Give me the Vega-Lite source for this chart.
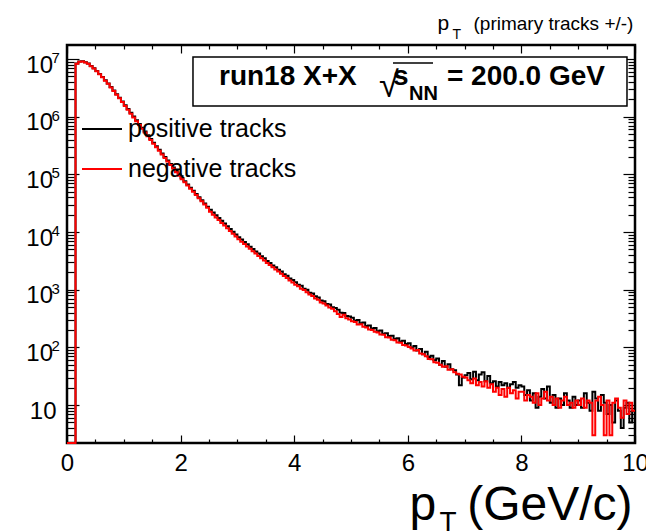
{
 "$schema": "https://vega.github.io/schema/vega-lite/v6.json",
 "width": 568, "height": 398,
 "autosize": {"type": "none"},
 "padding": {"left": 67, "top": 45, "right": 11, "bottom": 89},
 "background": "white",
 "config": {
  "font": "Liberation Sans",
  "view": {"stroke": "black", "strokeWidth": 2.5},
  "axis": {"domain": false, "grid": false, "tickColor": "black", "tickWidth": 1.2, "labelColor": "black", "titleColor": "black", "labelFont": "Liberation Sans", "titleFont": "Liberation Sans", "titleFontWeight": "normal", "labelFlush": false, "labelOverlap": false}
 },
 "data": {"values": [
{"x":0,"pos":2.2,"neg":2.2},{"x":0.05,"pos":2.2,"neg":2.2},{"x":0.1,"pos":2.2,"neg":2.2},{"x":0.15,"pos":8320000,"neg":8250000},{"x":0.2,"pos":9020000,"neg":8950000},{"x":0.25,"pos":9120000,"neg":9050000},{"x":0.3,"pos":8810000,"neg":8740000},{"x":0.35,"pos":8320000,"neg":8250000},{"x":0.4,"pos":7590000,"neg":7520000},{"x":0.45,"pos":6920000,"neg":6860000},
{"x":0.5,"pos":6170000,"neg":6110000},{"x":0.55,"pos":5500000,"neg":5440000},{"x":0.6,"pos":4900000,"neg":4850000},{"x":0.65,"pos":4270000,"neg":4220000},{"x":0.7,"pos":3760000,"neg":3710000},{"x":0.75,"pos":3270000,"neg":3220000},{"x":0.8,"pos":2850000,"neg":2800000},{"x":0.85,"pos":2450000,"neg":2400000},{"x":0.9,"pos":2140000,"neg":2090000},{"x":0.95,"pos":1840000,"neg":1790000},
{"x":1,"pos":1585000,"neg":1530000},{"x":1.05,"pos":1365000,"neg":1315000},{"x":1.1,"pos":1175000,"neg":1130000},{"x":1.15,"pos":1012000,"neg":972000},{"x":1.2,"pos":871000,"neg":836000},{"x":1.25,"pos":750000,"neg":720000},{"x":1.3,"pos":646000,"neg":620000},{"x":1.35,"pos":556000,"neg":534000},{"x":1.4,"pos":479000,"neg":460000},{"x":1.45,"pos":412000,"neg":396000},
{"x":1.5,"pos":355000,"neg":341000},{"x":1.55,"pos":308000,"neg":296000},{"x":1.6,"pos":267000,"neg":256000},{"x":1.65,"pos":231000,"neg":222000},{"x":1.7,"pos":200000,"neg":192000},{"x":1.75,"pos":174000,"neg":167000},{"x":1.8,"pos":151000,"neg":145000},{"x":1.85,"pos":131000,"neg":126000},{"x":1.9,"pos":114000,"neg":109000},{"x":1.95,"pos":99100,"neg":95100},
{"x":2,"pos":86100,"neg":82700},{"x":2.05,"pos":75900,"neg":72900},{"x":2.1,"pos":66800,"neg":64100},{"x":2.15,"pos":58900,"neg":56500},{"x":2.2,"pos":51900,"neg":49800},{"x":2.25,"pos":45700,"neg":43900},{"x":2.3,"pos":40300,"neg":38700},{"x":2.35,"pos":35500,"neg":34100},{"x":2.4,"pos":31300,"neg":30000},{"x":2.45,"pos":27500,"neg":26400},
{"x":2.5,"pos":24300,"neg":22400},{"x":2.55,"pos":21800,"neg":20000},{"x":2.6,"pos":19500,"neg":17900},{"x":2.65,"pos":17500,"neg":16100},{"x":2.7,"pos":15700,"neg":14400},{"x":2.75,"pos":14100,"neg":13000},{"x":2.8,"pos":12600,"neg":11600},{"x":2.85,"pos":11300,"neg":10400},{"x":2.9,"pos":10100,"neg":9300},{"x":2.95,"pos":9080,"neg":8350},
{"x":3,"pos":8130,"neg":7480},{"x":3.05,"pos":7450,"neg":6810},{"x":3.1,"pos":6700,"neg":6190},{"x":3.15,"pos":6150,"neg":5630},{"x":3.2,"pos":5540,"neg":5120},{"x":3.25,"pos":5100,"neg":4660},{"x":3.3,"pos":4580,"neg":4240},{"x":3.35,"pos":4230,"neg":3860},{"x":3.4,"pos":3800,"neg":3510},{"x":3.45,"pos":3500,"neg":3200},
{"x":3.5,"pos":3140,"neg":2910},{"x":3.55,"pos":2920,"neg":2670},{"x":3.6,"pos":2640,"neg":2450},{"x":3.65,"pos":2460,"neg":2240},{"x":3.7,"pos":2220,"neg":2060},{"x":3.75,"pos":2080,"neg":1900},{"x":3.8,"pos":1860,"neg":1730},{"x":3.85,"pos":1750,"neg":1590},{"x":3.9,"pos":1570,"neg":1450},{"x":3.95,"pos":1470,"neg":1340},
{"x":4,"pos":1350,"neg":1220},{"x":4.05,"pos":1220,"neg":1150},{"x":4.1,"pos":1170,"neg":1040},{"x":4.15,"pos":1040,"neg":985},{"x":4.2,"pos":995,"neg":900},{"x":4.25,"pos":890,"neg":830},{"x":4.3,"pos":860,"neg":780},{"x":4.35,"pos":770,"neg":705},{"x":4.4,"pos":735,"neg":670},{"x":4.45,"pos":650,"neg":600},
{"x":4.5,"pos":630,"neg":575},{"x":4.55,"pos":565,"neg":530},{"x":4.6,"pos":555,"neg":490},{"x":4.65,"pos":495,"neg":470},{"x":4.7,"pos":480,"neg":425},{"x":4.75,"pos":450,"neg":380},{"x":4.8,"pos":400,"neg":335},{"x":4.85,"pos":395,"neg":370},{"x":4.9,"pos":352,"neg":320},{"x":4.95,"pos":345,"neg":305},
{"x":5,"pos":325,"neg":285},{"x":5.05,"pos":290,"neg":275},{"x":5.1,"pos":300,"neg":250},{"x":5.15,"pos":262,"neg":252},{"x":5.2,"pos":270,"neg":228},{"x":5.25,"pos":236,"neg":222},{"x":5.3,"pos":240,"neg":205},{"x":5.35,"pos":212,"neg":200},{"x":5.4,"pos":218,"neg":186},{"x":5.45,"pos":190,"neg":182},
{"x":5.5,"pos":196,"neg":168},{"x":5.55,"pos":172,"neg":165},{"x":5.6,"pos":176,"neg":150},{"x":5.65,"pos":158,"neg":148},{"x":5.7,"pos":160,"neg":136},{"x":5.75,"pos":140,"neg":133},{"x":5.8,"pos":144,"neg":122},{"x":5.85,"pos":126,"neg":120},{"x":5.9,"pos":130,"neg":110},{"x":5.95,"pos":115,"neg":108},
{"x":6,"pos":118,"neg":102},{"x":6.05,"pos":100,"neg":96},{"x":6.1,"pos":106,"neg":88},{"x":6.15,"pos":88,"neg":90},{"x":6.2,"pos":94,"neg":78},{"x":6.25,"pos":76,"neg":76},{"x":6.3,"pos":84,"neg":70},{"x":6.35,"pos":68,"neg":63},{"x":6.4,"pos":72,"neg":62},{"x":6.45,"pos":60,"neg":55},
{"x":6.5,"pos":64,"neg":54},{"x":6.55,"pos":50,"neg":50},{"x":6.6,"pos":58,"neg":46},{"x":6.65,"pos":46,"neg":47},{"x":6.7,"pos":51,"neg":41},{"x":6.75,"pos":42,"neg":42},{"x":6.8,"pos":40,"neg":37},{"x":6.85,"pos":34,"neg":35},{"x":6.9,"pos":22,"neg":34},{"x":6.95,"pos":30,"neg":31},
{"x":7,"pos":33,"neg":30},{"x":7.05,"pos":36,"neg":27},{"x":7.1,"pos":28,"neg":24},{"x":7.15,"pos":38,"neg":29},{"x":7.2,"pos":27,"neg":22},{"x":7.25,"pos":34,"neg":25},{"x":7.3,"pos":37,"neg":21},{"x":7.35,"pos":26,"neg":26},{"x":7.4,"pos":32,"neg":20},{"x":7.45,"pos":24,"neg":23},
{"x":7.5,"pos":26,"neg":17},{"x":7.55,"pos":21,"neg":20},{"x":7.6,"pos":25,"neg":15},{"x":7.65,"pos":22,"neg":19},{"x":7.7,"pos":24,"neg":14},{"x":7.75,"pos":20,"neg":20},{"x":7.8,"pos":23,"neg":16},{"x":7.85,"pos":25,"neg":18},{"x":7.9,"pos":20,"neg":13},{"x":7.95,"pos":22,"neg":17},
{"x":8,"pos":21,"neg":17},{"x":8.05,"pos":15,"neg":12},{"x":8.1,"pos":18,"neg":15},{"x":8.15,"pos":12,"neg":14},{"x":8.2,"pos":16,"neg":11},{"x":8.25,"pos":9,"neg":16},{"x":8.3,"pos":14,"neg":10},{"x":8.35,"pos":19,"neg":13},{"x":8.4,"pos":13,"neg":17},{"x":8.45,"pos":21,"neg":12},
{"x":8.5,"pos":11,"neg":14},{"x":8.55,"pos":15,"neg":10},{"x":8.6,"pos":9,"neg":13},{"x":8.65,"pos":13,"neg":9},{"x":8.7,"pos":10,"neg":12},{"x":8.75,"pos":16,"neg":14},{"x":8.8,"pos":12,"neg":10},{"x":8.85,"pos":9,"neg":11},{"x":8.9,"pos":14,"neg":9},{"x":8.95,"pos":10,"neg":12},
{"x":9,"pos":12,"neg":10},{"x":9.05,"pos":9,"neg":13},{"x":9.1,"pos":16,"neg":9},{"x":9.15,"pos":11,"neg":12},{"x":9.2,"pos":8,"neg":11},{"x":9.25,"pos":17,"neg":3},{"x":9.3,"pos":13,"neg":12},{"x":9.35,"pos":8,"neg":14},{"x":9.4,"pos":15,"neg":10},{"x":9.45,"pos":11,"neg":3},
{"x":9.5,"pos":7,"neg":12},{"x":9.55,"pos":10,"neg":3},{"x":9.6,"pos":5,"neg":11},{"x":9.65,"pos":12,"neg":13},{"x":9.7,"pos":8,"neg":9},{"x":9.75,"pos":4,"neg":6},{"x":9.8,"pos":9,"neg":12},{"x":9.85,"pos":11,"neg":7},{"x":9.9,"pos":5,"neg":11},{"x":9.95,"pos":8,"neg":8},
{"x":10,"pos":8,"neg":8}
 ]},
 "resolve": {"axis": {"x": "independent", "y": "independent"}},
 "layer": [
  {
   "transform": [{"fold": ["pos", "neg"], "as": ["series", "count"]}],
   "mark": {"type": "line", "interpolate": "step-after", "strokeWidth": 2},
   "encoding": {
    "x": {"field": "x", "type": "quantitative", "scale": {"domain": [0, 10], "nice": false, "zero": false},
     "axis": {"orient": "bottom", "values": [0, 2, 4, 6, 8, 10], "tickSize": -8, "labelPadding": 16, "labelFontSize": 24, "title": "(GeV/c)", "titleFontSize": 48, "titleX": 565, "titleY": 76, "titleAlign": "right", "titleAnchor": "end", "titleBaseline": "alphabetic"}},
    "y": {"field": "count", "type": "quantitative", "scale": {"type": "log", "domain": [2.2, 17500000], "nice": false},
     "axis": {"orient": "left", "values": [10, 100, 1000, 10000, 100000, 1000000, 10000000], "labelExpr": "'10'", "tickSize": -12, "labelAlign": "right", "labelBaseline": "middle", "labelOffset": 6, "labelPadding": {"condition": {"test": "datum.value == 10", "value": 23}, "value": 26.5}, "labelFontSize": 24, "title": null}},
    "color": {"field": "series", "type": "nominal", "scale": {"domain": ["pos", "neg"], "range": ["#000000", "#ff0000"]},
     "legend": {"orient": "none", "legendX": 14, "legendY": 63, "title": null, "symbolType": "stroke", "symbolSize": 1600, "symbolStrokeWidth": 2, "labelFontSize": 25, "labelColor": "black", "labelOffset": 5, "labelLimit": 400, "rowPadding": 6, "padding": 0, "labelExpr": "datum.label == 'pos' ? 'positive tracks' : 'negative tracks'"}}
   }
  },
  {
   "data": {"values": [{}]},
   "mark": {"type": "rect", "fill": "white", "stroke": "black", "strokeWidth": 1.5},
   "encoding": {
    "x": {"datum": 2.218, "type": "quantitative",
     "axis": {"orient": "bottom", "values": [0.5, 1, 1.5, 2.5, 3, 3.5, 4.5, 5, 5.5, 6.5, 7, 7.5, 8.5, 9, 9.5], "tickSize": -4, "labels": false, "title": "p", "titleFontSize": 48, "titleX": 342, "titleY": 76, "titleAlign": "left", "titleAnchor": "start", "titleBaseline": "alphabetic"}},
    "x2": {"datum": 9.859},
    "y": {"datum": 10830000, "type": "quantitative",
     "axis": {"orient": "left", "values": [100, 1000, 10000, 100000, 1000000, 10000000], "labelExpr": "'' + round(log(datum.value) / LN10)", "ticks": false, "tickSize": 0, "labelAlign": "left", "labelBaseline": "middle", "labelPadding": 16, "labelOffset": -1.5, "labelFontSize": 15, "title": "p", "titleFontSize": 21, "titleAngle": 0, "titleX": 370, "titleY": -16, "titleAlign": "left", "titleAnchor": "start", "titleBaseline": "alphabetic"}},
    "y2": {"datum": 1530000}
   }
  },
  {
   "data": {"values": [{}]},
   "mark": {"type": "text", "text": "run18 X+X", "font": "Liberation Sans", "fontWeight": "bold", "fontSize": 28, "align": "left", "baseline": "alphabetic", "color": "black"},
   "encoding": {
    "x": {"datum": 2.676, "type": "quantitative",
     "axis": {"orient": "top", "values": [0, 2, 4, 6, 8, 10], "tickSize": -8, "labels": false, "title": "T", "titleFontSize": 28, "titleX": 372, "titleY": 485, "titleAlign": "left", "titleAnchor": "start", "titleBaseline": "alphabetic"}},
    "y": {"datum": 3543000, "type": "quantitative",
     "axis": {"orient": "left", "values": [3, 4, 5, 6, 7, 8, 9, 20, 30, 40, 50, 60, 70, 80, 90, 200, 300, 400, 500, 600, 700, 800, 900, 2000, 3000, 4000, 5000, 6000, 7000, 8000, 9000, 20000, 30000, 40000, 50000, 60000, 70000, 80000, 90000, 200000, 300000, 400000, 500000, 600000, 700000, 800000, 900000, 2000000, 3000000, 4000000, 5000000, 6000000, 7000000, 8000000, 9000000], "tickSize": -7, "labels": false, "title": null}}
   }
  },
  {
   "data": {"values": [{}]},
   "mark": {"type": "text", "text": "s", "font": "Liberation Sans", "fontWeight": "bold", "fontSize": 28, "align": "left", "baseline": "alphabetic", "color": "black"},
   "encoding": {
    "x": {"datum": 5.74, "type": "quantitative",
     "axis": {"orient": "top", "values": [0.5, 1, 1.5, 2.5, 3, 3.5, 4.5, 5, 5.5, 6.5, 7, 7.5, 8.5, 9, 9.5], "tickSize": -4, "labels": false, "title": "(primary tracks +/-)", "titleFontSize": 19, "titleX": 406, "titleY": -16, "titleAlign": "left", "titleAnchor": "start", "titleBaseline": "alphabetic"}},
    "y": {"datum": 3543000, "type": "quantitative",
     "axis": {"orient": "right", "values": [10, 100, 1000, 10000, 100000, 1000000, 10000000], "tickSize": -12, "labels": false, "title": "T", "titleFontSize": 14, "titleAngle": 0, "titleX": -183, "titleY": -7, "titleAlign": "left", "titleAnchor": "start", "titleBaseline": "alphabetic"}}
   }
  },
  {
   "data": {"values": [{}]},
   "mark": {"type": "text", "text": "= 200.0 GeV", "font": "Liberation Sans", "fontWeight": "bold", "fontSize": 28, "align": "left", "baseline": "alphabetic", "color": "black"},
   "encoding": {
    "x": {"datum": 6.69, "type": "quantitative", "axis": null},
    "y": {"datum": 3543000, "type": "quantitative",
     "axis": {"orient": "right", "values": [3, 4, 5, 6, 7, 8, 9, 20, 30, 40, 50, 60, 70, 80, 90, 200, 300, 400, 500, 600, 700, 800, 900, 2000, 3000, 4000, 5000, 6000, 7000, 8000, 9000, 20000, 30000, 40000, 50000, 60000, 70000, 80000, 90000, 200000, 300000, 400000, 500000, 600000, 700000, 800000, 900000, 2000000, 3000000, 4000000, 5000000, 6000000, 7000000, 8000000, 9000000], "tickSize": -7, "labels": false, "title": null}}
   }
  },
  {
   "data": {"values": [{}]},
   "mark": {"type": "text", "text": "√", "font": "Liberation Sans", "fontSize": 36, "align": "left", "baseline": "alphabetic", "color": "black"},
   "encoding": {
    "x": {"datum": 5.493, "type": "quantitative", "axis": null},
    "y": {"datum": 2195000, "type": "quantitative", "axis": null}
   }
  },
  {
   "data": {"values": [{}]},
   "mark": {"type": "text", "text": "NN", "font": "Liberation Sans", "fontWeight": "bold", "fontSize": 20, "align": "left", "baseline": "alphabetic", "color": "black"},
   "encoding": {
    "x": {"datum": 6.02, "type": "quantitative", "axis": null},
    "y": {"datum": 1947000, "type": "quantitative", "axis": null}
   }
  },
  {
   "data": {"values": [{}]},
   "mark": {"type": "rule", "color": "black", "strokeWidth": 1.5},
   "encoding": {
    "x": {"datum": 5.739, "type": "quantitative", "axis": null},
    "x2": {"datum": 6.444},
    "y": {"datum": 8526000, "type": "quantitative", "axis": null}
   }
  }
 ]
}
